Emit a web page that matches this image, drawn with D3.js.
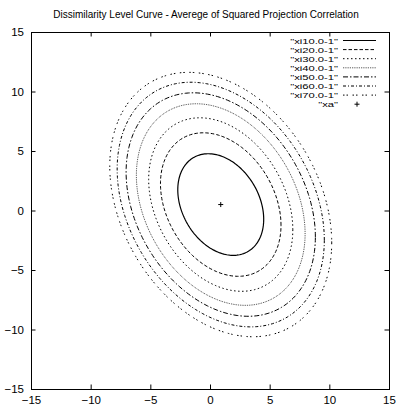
<!DOCTYPE html>
<html>
<head>
<meta charset="utf-8">
<script src="https://cdn.jsdelivr.net/npm/d3@7"></script>
<style>
  body { margin: 0; background: #fff; }
  text { font-family: "Liberation Sans", Arial, sans-serif; fill: #000; }
</style>
</head>
<body>
<div id="graph"></div>
<script>
    //Size of the page and plot frame.
    let w = 396;
    let h = 408;
    let plotLeft = 31, plotRight = 389, plotTop = 32, plotBottom = 389;

    //Curve names, as in the legend.
    let curveNames = ["\"xi10.0-1\"", "\"xi20.0-1\"", "\"xi30.0-1\"", "\"xi40.0-1\"",
                      "\"xi50.0-1\"", "\"xi60.0-1\"", "\"xi70.0-1\""];

    //Half width and half height of each level curve (data units).
    let xRadius = [3.60, 5.05, 6.04, 7.07, 7.93, 8.68, 9.30];
    let yRadius = [4.27, 6.03, 7.29, 8.47, 9.39, 10.28, 11.11];

    //x offset of each curve's top point, as a share of its half width.
    let topShift = [-0.29, -0.29, -0.29, -0.29, -0.29, -0.29, -0.29];

    //The point "xa" that all curves surround.
    let xaPoint = [0.9, 0.5];

    //Axis ticks.
    let xTicks = [-15, -10, -5, 0, 5, 10, 15];
    let yTicks = [-15, -10, -5, 0, 5, 10, 15];

    //Dash pattern for each curve.
    let dashes = ["none", "3.5,2", "1.5,2.5", "0.8,1", "5,2,1.5,2", "3,2,1,2", "1.5,2,1.5,4.5"];

    const svg = d3.select('#graph')
                .append("svg")
                .attr("width", w)
                .attr("height", h)

    let xScale = d3.scaleLinear().domain([-15, 15]).range([plotLeft, plotRight]);
    let yScale = d3.scaleLinear().domain([-15, 15]).range([plotBottom, plotTop]);

    //Title.
    svg.append("text")
        .attr("x", 206)
        .attr("y", 17.5)
        .style("text-anchor", "middle")
        .style("font-size", "10px")
        .text("Dissimilarity Level Curve - Averege of Squared Projection Correlation");

    //Axes with inward ticks, mirrored on top and right.
    svg.append("g")
        .attr("transform", "translate(0," + plotBottom + ")")
        .call(d3.axisBottom(xScale).tickValues(xTicks).tickSizeInner(-4.5).tickSizeOuter(0).tickPadding(7));
    svg.append("g")
        .attr("transform", "translate(0," + plotTop + ")")
        .call(d3.axisTop(xScale).tickValues(xTicks).tickSizeInner(-4.5).tickSizeOuter(0).tickFormat(""));
    svg.append("g")
        .attr("transform", "translate(" + plotLeft + ",0)")
        .call(d3.axisLeft(yScale).tickValues(yTicks).tickSizeInner(-4.5).tickSizeOuter(0).tickPadding(7));
    svg.append("g")
        .attr("transform", "translate(" + plotRight + ",0)")
        .call(d3.axisRight(yScale).tickValues(yTicks).tickSizeInner(-4.5).tickSizeOuter(0).tickFormat(""));

    svg.selectAll(".tick text")
        .style("font-family", "'Liberation Sans', Arial, sans-serif")
        .style("font-size", "11.5px")
        .attr("fill", "#000");
    svg.selectAll(".domain").remove();
    svg.selectAll(".tick line").attr("stroke", "#000");

    //Frame.
    svg.append("rect")
        .attr("x", plotLeft + 0.5)
        .attr("y", plotTop + 0.5)
        .attr("width", plotRight - plotLeft)
        .attr("height", plotBottom - plotTop)
        .attr("fill", "none")
        .attr("stroke", "#000")
        .attr("stroke-width", 1);

    //Each curve is traced round its bounding box, x = rx cos t, y = ry cos(t - phi).
    let angles = d3.range(0, 361, 2).map(a => a * Math.PI / 180);
    const curveLine = d3.line()
                        .x(d => xScale(d[0]))
                        .y(d => yScale(d[1]));

    svg.selectAll(".level")
        .data(curveNames)
        .enter()
        .append("path")
        .attr("class", "level")
        .attr("d", (d, i) => {
            let phi = Math.acos(topShift[i]);
            return curveLine(angles.map(t => [
                xaPoint[0] + xRadius[i] * Math.cos(t),
                xaPoint[1] + yRadius[i] * Math.cos(t - phi)
            ]));
        })
        .attr("fill", "none")
        .attr("stroke", (d, i) => i == 3 ? "#333" : "#000")
        .attr("stroke-width", (d, i) => i == 0 ? 1.2 : 1)
        .attr("stroke-dasharray", (d, i) => dashes[i]);

    //The "xa" point.
    let px = xScale(xaPoint[0]), py = yScale(xaPoint[1]);
    svg.append("path")
        .attr("d", "M" + (px - 2.5) + "," + py + "H" + (px + 2.5) + "M" + px + "," + (py - 2.5) + "V" + (py + 2.5))
        .attr("stroke", "#000")
        .attr("stroke-width", 1);

    //Legend. Rows are tight, so the text is small and stretched sideways.
    let legendY = d3.scaleLinear().domain([0, 1]).range([40.5, 49.6]);
    let legend = svg.selectAll(".legend")
        .data(curveNames.concat(["\"xa\""]))
        .enter()
        .append("g")
        .attr("class", "legend")
        .attr("transform", (d, i) => "translate(0," + legendY(i) + ")");

    legend.append("text")
        .attr("x", 338)
        .attr("y", 3)
        .style("text-anchor", "end")
        .style("font-size", "8px")
        .text(d => d)
        .each(function() {
            let len = this.getComputedTextLength();
            d3.select(this)
              .attr("textLength", len * 1.4)
              .attr("lengthAdjust", "spacingAndGlyphs");
        });

    legend.filter((d, i) => i < 7)
        .append("line")
        .attr("x1", 343)
        .attr("x2", 376)
        .attr("y1", 0)
        .attr("y2", 0)
        .attr("stroke", (d, i) => i == 3 ? "#333" : "#000")
        .attr("stroke-width", (d, i) => i == 0 ? 1.2 : 1)
        .attr("stroke-dasharray", (d, i) => dashes[i]);

    legend.filter((d, i) => i == 7)
        .append("path")
        .attr("d", "M354.5,0H359.5M357,-2.5V2.5")
        .attr("stroke", "#000");
</script>
</body>
</html>
